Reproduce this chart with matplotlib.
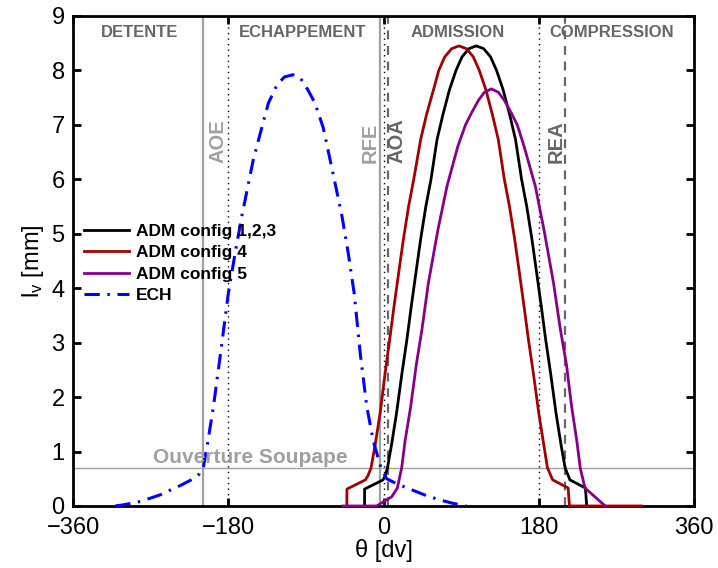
import matplotlib
matplotlib.use("Agg")
import matplotlib.pyplot as plt

plt.rcParams['font.family'] = ['Liberation Sans', 'DejaVu Sans']

# valve lift curves (theta in deg, lift in mm)
adm123_theta = [-22, -22, -0.5, 2, 4.5, 9, 15, 21, 27, 32, 37.5, 43, 49, 55, 62, 69, 76.5, 84, 91, 99, 107.5,
                116, 124, 131, 138.5, 146, 153, 160, 166, 172, 177.5, 183, 188, 194, 200, 206, 210.5, 216, 234, 235.5]
adm123_lift = [0, 0.31, 0.48, 0.56, 0.7, 1.1, 1.70, 2.4, 3.05, 3.65, 4.28, 4.9, 5.50, 6.0, 6.73, 7.2, 7.65, 8.0, 8.25, 8.4, 8.45,
               8.4, 8.25, 8.0, 7.65, 7.2, 6.73, 6.0, 5.50, 4.9, 4.28, 3.65, 3.05, 2.4, 1.70, 1.1, 0.7, 0.48, 0.33, 0]

adm4_theta = [-42.5, -42.5, -21, -18, -14.5, -10, -4, 1.5, 7, 12, 17.5, 23, 29, 35, 43, 50, 58, 64, 71, 79, 87.5,
              96, 104, 111, 118.5, 126, 133, 140, 146, 152, 157.5, 163, 168, 174, 180, 186, 190, 196, 214, 215.5, 299]
adm4_lift = [0, 0.31, 0.48, 0.56, 0.7, 1.1, 1.70, 2.4, 3.05, 3.65, 4.28, 4.9, 5.50, 6.0, 6.73, 7.2, 7.65, 8.0, 8.25, 8.4, 8.45,
             8.4, 8.25, 8.0, 7.65, 7.2, 6.73, 6.0, 5.50, 4.9, 4.28, 3.65, 3.05, 2.4, 1.70, 1.1, 0.7, 0.48, 0.33, 0, 0]

adm5_theta = [-47, -8, 9.5, 16, 21, 25, 31.5, 38, 44.5, 52, 63, 73.5, 86, 95, 102, 110, 117, 125,
              133, 140, 148, 155, 163, 176, 186, 197, 205, 212, 218, 224, 228, 233.5, 257]
adm5_lift = [0, 0, 0.17, 0.33, 0.7, 1.2, 1.83, 2.6, 3.24, 4.1, 5.07, 5.87, 6.6, 7.0, 7.22, 7.45, 7.6, 7.66,
             7.6, 7.45, 7.22, 7.0, 6.6, 5.87, 5.07, 4.1, 3.24, 2.6, 1.83, 1.2, 0.7, 0.33, 0]

ech_theta = [-311, -302, -285, -271, -258, -247.5, -235, -220.5, -214, -209, -204, -197, -189, -180, -172, -164,
             -151, -142, -133.5, -124, -115, -105, -96, -88, -79.5, -70, -62, -48.5, -41, -34, -27, -19.5,
             -12, -3, 3.7, 15, 30.7, 48, 65.5, 80, 96]
ech_lift = [0, 0.02, 0.07, 0.14, 0.21, 0.29, 0.38, 0.5, 0.58, 0.7, 1.15, 1.85, 2.8, 3.9, 4.65, 5.35,
            6.36, 6.9, 7.4, 7.72, 7.88, 7.92, 7.85, 7.65, 7.4, 6.95, 6.36, 5.35, 4.65, 3.9, 2.8, 1.83,
            1.2, 0.7, 0.5, 0.41, 0.31, 0.2, 0.11, 0.05, 0]

# timing marks
aoe, rfe, aoa, rea = -209, -4, 5, 210
dead_centres = [-180, 0, 180]
lift_open = 0.7

phases = ['DETENTE', 'ECHAPPEMENT', 'ADMISSION', 'COMPRESSION']
phase_x = [-283, -94, 86, 264]

light = '#a0a0a0'
dark = '#666666'

fig = plt.figure(figsize=(7.18, 5.68), dpi=100)
ax = fig.add_axes([0.1017, 0.1092, 0.865, 0.8627])

ax.axhline(lift_open, color=light, lw=1, zorder=1)
for x in dead_centres:
    ax.axvline(x, color='k', lw=1, ls=(0, (1, 3)), zorder=1)
ax.axvline(aoe, color=light, lw=1.6, zorder=1)
ax.axvline(rfe, color=light, lw=1.6, zorder=1)
ax.axvline(aoa, color=dark, lw=1.6, ls=(0, (4, 3)), zorder=1)
ax.axvline(rea, color=dark, lw=1.6, ls=(0, (4, 3)), zorder=1)

ax.plot(adm123_theta, adm123_lift, color='k', lw=2, label='ADM config 1,2,3', zorder=3, clip_on=False)
ax.plot(adm4_theta, adm4_lift, color='#a00000', lw=2, label='ADM config 4', zorder=3, clip_on=False)
ax.plot(adm5_theta, adm5_lift, color='#860086', lw=2, label='ADM config 5', zorder=3, clip_on=False)
ax.plot(ech_theta, ech_lift, color='#0000ff', lw=2.2, ls=(0, (5, 2.5, 0.8, 2.5)), label='ECH', zorder=3, clip_on=False)

lab = dict(rotation=90, ha='center', va='bottom', fontsize=14.5, fontweight='bold')
ax.text(-192.5, 6.3, 'AOE', color=light, **lab)
ax.text(-15.5, 6.3, 'RFE', color=light, **lab)
ax.text(16, 6.3, 'AOA', color=dark, **lab)
ax.text(199.5, 6.3, 'REA', color=dark, **lab)

for name, x in zip(phases, phase_x):
    ax.text(x, 8.7, name, color=dark, ha='center', va='center', fontsize=12, fontweight='bold')
ax.text(-154, lift_open + 0.02, 'Ouverture Soupape', color=light, ha='center', va='bottom',
        fontsize=15, fontweight='bold')

ax.set_xlim(-360, 360)
ax.set_ylim(0, 9)
ax.set_xticks([-360, -180, 0, 180, 360])
ax.set_yticks(range(10))
ax.tick_params(direction='in', length=6, width=2, top=True, right=True, labelsize=17)
ax.tick_params(axis='x', pad=8)
ax.tick_params(axis='y', pad=6)
for s in ax.spines.values():
    s.set_linewidth(2)
ax.set_xlabel('θ [dv]', fontsize=17, labelpad=0)
ax.set_ylabel(r'$\mathregular{l_v}$ [mm]', fontsize=17, labelpad=4)

leg = ax.legend(loc='center left', bbox_to_anchor=(0.018, 0.495), frameon=False,
                handlelength=2.6, handletextpad=0.4, labelspacing=0.35, borderpad=0, borderaxespad=0,
                prop={'weight': 'bold', 'size': 12.5})

fig.savefig('out.png', dpi=100)
